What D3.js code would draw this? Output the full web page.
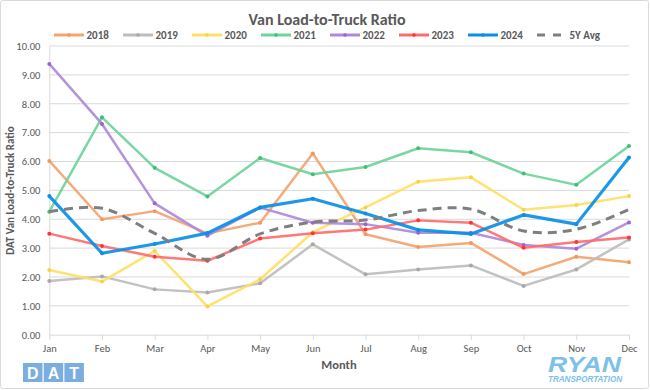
<!DOCTYPE html>
<html><head><meta charset="utf-8">
<script src="https://cdn.jsdelivr.net/npm/d3@7"></script>
<style>
body{margin:0;background:#fff;}
text{font-family:Carlito,Calibri,Lato,sans-serif;}
</style></head>
<body><svg id="c" width="650" height="390"></svg>
<script>
const months=["Jan","Feb","Mar","Apr","May","Jun","Jul","Aug","Sep","Oct","Nov","Dec"];
const yTicks=[0,1,2,3,4,5,6,7,8,9,10];
const s2018=[6.02,4.00,4.28,3.51,3.88,6.28,3.48,3.04,3.18,2.10,2.70,2.51];
const s2019=[1.86,2.02,1.57,1.46,1.78,3.13,2.09,2.26,2.40,1.69,2.26,3.30];
const s2020=[2.24,1.84,2.90,0.98,1.92,3.55,4.41,5.30,5.45,4.33,4.49,4.80];
const s2021=[4.26,7.53,5.78,4.79,6.12,5.56,5.81,6.46,6.32,5.58,5.19,6.54];
const s2022=[9.38,7.30,4.55,3.43,4.40,3.88,3.83,3.53,3.53,3.11,2.98,3.89];
const s2023=[3.50,3.07,2.70,2.56,3.33,3.51,3.64,3.96,3.88,3.01,3.21,3.37];
const s2024=[4.80,2.82,3.14,3.52,4.41,4.71,4.20,3.63,3.49,4.15,3.83,6.14];
const s5y=[4.26,4.38,3.51,2.61,3.49,3.90,3.97,4.30,4.35,3.59,3.65,4.34];
const seriesNames=["2018","2019","2020","2021","2022","2023","2024","5Y Avg"];

const series=[
 {name:"2018",data:s2018,color:"#f4a46e",w:2.5,marker:true},
 {name:"2019",data:s2019,color:"#bdbdbd",w:2.5,marker:true},
 {name:"2020",data:s2020,color:"#ffe066",w:2.5,marker:true},
 {name:"2021",data:s2021,color:"#6fd39b",w:2.5,marker:true},
 {name:"2022",data:s2022,color:"#ad8ad8",w:2.5,marker:true},
 {name:"2023",data:s2023,color:"#ff6b6b",w:2.5,marker:true},
 {name:"2024",data:s2024,color:"#0a8fe6",w:3.2,marker:true},
 {name:"5Y Avg",data:s5y,color:"#7f7f7f",w:3,dash:"9,6",smooth:true}
];
const markerCol={"2018":"#ee9a5e","2019":"#a8a8a8","2020":"#f5d44a","2021":"#3fbf74","2022":"#9a66c8","2023":"#ff3333","2024":"#0a8fe6"};

const svg=d3.select("#c");
svg.append("rect").attr("x",0.5).attr("y",0.5).attr("width",648).attr("height",388)
  .attr("fill","#fff").attr("stroke","#d9d9d9").attr("rx",2);

const x=d3.scalePoint().domain(months).range([49.3,629]);
const y=d3.scaleLinear().domain([0,10]).range([334.7,46]);

// gridlines
svg.append("g").selectAll("line").data(yTicks.slice(1)).join("line")
 .attr("x1",49.3).attr("x2",629).attr("y1",d=>y(d)).attr("y2",d=>y(d))
 .attr("stroke","#d9d9d9").attr("stroke-width",1);

// y axis
const ya=svg.append("g").attr("transform","translate(49.3,0)")
 .call(d3.axisLeft(y).tickValues(yTicks).tickFormat(d3.format(".2f")).tickSize(0).tickPadding(9));
ya.select(".domain").attr("stroke","#d9d9d9");
ya.selectAll("text").attr("fill","#595959").style("font-size","10.5px");

// x axis
const xa=svg.append("g").attr("transform","translate(0,334.7)")
 .call(d3.axisBottom(x).tickSize(5).tickPadding(5).tickSizeOuter(0));
xa.select(".domain").attr("stroke","#d9d9d9");
xa.selectAll(".tick line").attr("stroke","#d9d9d9");
xa.selectAll("text").attr("fill","#595959").style("font-size","10.5px");

// lines
const line=d3.line().x((d,i)=>x(months[i])).y(d=>y(d));
const sline=d3.line().x((d,i)=>x(months[i])).y(d=>y(d)).curve(d3.curveCatmullRom.alpha(0.5));
series.forEach(s=>{
  svg.append("path").datum(s.data).attr("d",s.smooth?sline:line)
   .attr("fill","none").attr("stroke",s.color).attr("stroke-width",s.w)
   .attr("stroke-dasharray",s.dash||null).attr("stroke-linejoin","round").attr("opacity",s.dash?1:0.92);
  if(s.marker){
    svg.append("g").selectAll("circle").data(s.data).join("circle")
     .attr("cx",(d,i)=>x(months[i])).attr("cy",d=>y(d)).attr("r",2)
     .attr("fill",markerCol[s.name]);
  }
});

// title
svg.append("text").attr("x",327).attr("y",25).attr("text-anchor","middle")
 .attr("fill","#595959").style("font-size","16px").style("font-weight","bold").text("Van Load-to-Truck Ratio");

// legend
const lg=svg.append("g");
series.forEach((s,i)=>{
  const lx=54+i*69, ly=35;
  const g=lg.append("g");
  g.append("line").attr("x1",lx).attr("x2",lx+(s.dash?24:30)).attr("y1",ly).attr("y2",ly)
   .attr("stroke",s.color).attr("stroke-width",3).attr("stroke-dasharray",s.dash?"8,8":null);
  if(s.marker) g.append("circle").attr("cx",lx+15).attr("cy",ly).attr("r",1.8).attr("fill",markerCol[s.name]);
  g.append("text").attr("x",lx+32.5).attr("y",ly+4).attr("fill","#595959")
   .style("font-size","11px").style("font-weight","bold").text(seriesNames[i]);
});

// axis titles
svg.append("text").attr("x",339).attr("y",369).attr("text-anchor","middle").attr("fill","#595959")
 .style("font-size","12.5px").style("font-weight","bold").text("Month");
svg.append("text").attr("transform","translate(14,190.5) rotate(-90)").attr("text-anchor","middle").attr("fill","#595959")
 .style("font-size","11px").style("font-weight","bold").text("DAT Van Load-to-Truck Ratio");

// DAT logo
const dat=svg.append("g");
["D","A","T"].forEach((l,i)=>{
  dat.append("rect").attr("x",23+i*20.7).attr("y",363).attr("width",19.5).attr("height",19).attr("fill","#7aade0");
  dat.append("text").attr("x",23+i*20.7+9.75).attr("y",378.5).attr("text-anchor","middle").attr("fill","#fff")
   .style("font-size","16px").style("font-weight","bold").style("font-family","'Liberation Sans',Arial,sans-serif").text(l);
});

// RYAN logo
svg.append("text").attr("x",548).attr("y",372.2).attr("textLength",73).attr("lengthAdjust","spacingAndGlyphs").attr("fill","#7cc1ea")
 .style("font-size","22px").style("font-weight","900").style("font-style","italic")
 .style("font-family","'Liberation Sans',Arial,sans-serif").text("RYAN");
svg.append("text").attr("x",548).attr("y",382.3).attr("textLength",74).attr("lengthAdjust","spacingAndGlyphs").attr("fill","#7cc1ea")
 .style("font-size","8.3px").style("font-weight","bold").style("font-style","italic")
 .style("font-family","'Liberation Sans',Arial,sans-serif").text("TRANSPORTATION");
</script></body></html>
